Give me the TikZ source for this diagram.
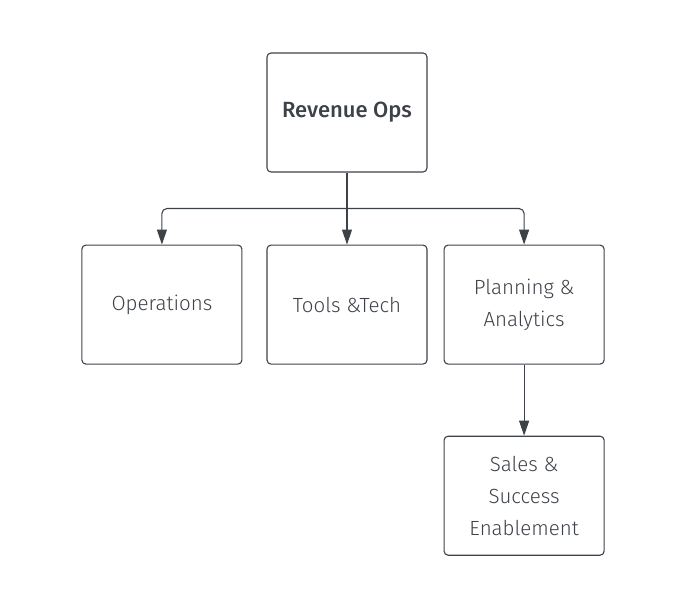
\documentclass[tikz,border=0pt]{standalone}
\usepackage{fontspec}
\setmainfont{Fira Sans Light}
\newfontfamily\boldface{Fira Sans Medium}
\usetikzlibrary{arrows.meta,positioning,calc}
\definecolor{ink}{HTML}{3D4249}

\begin{document}
\begin{tikzpicture}[
  x=1pt, y=1pt,
  node distance=72pt and 24pt,
  box/.style={draw=ink, line width=1.1pt, rounded corners=4pt,
              minimum width=160pt, minimum height=119pt, align=center,
              text=ink, font=\fontsize{20.5}{32}\selectfont},
  arr/.style={draw=ink, line width=1.1pt, -{Triangle[length=15pt,width=10pt]}},
  link/.style={draw=ink, line width=1.1pt}
]
\useasboundingbox (0,0) rectangle (679,-609);

\node[box, font=\boldface\fontsize{22}{32}\selectfont] (rev) at (347,-112.5) {Revenue Ops};

\node[box, below=72pt of rev] (tools) {Tools \&Tech};
\node[box, left=24pt of tools] (ops) {Operations};
\node[box, right=16pt of tools] (plan) {Planning \&\\Analytics};
\node[box, below=71pt of plan] (sales) {Sales \&\\Success\\Enablement};

% branch point under the top box
\coordinate (junc) at ($(rev.south)+(0,-36)$);
\draw[link] (rev.south) -- (junc);
\draw[arr, rounded corners=5pt] (junc) -| (ops.north);
\draw[arr] (junc) -- (tools.north);
\draw[arr, rounded corners=5pt] (junc) -| (plan.north);
\draw[arr] (plan) -- (sales);
\end{tikzpicture}
\end{document}
